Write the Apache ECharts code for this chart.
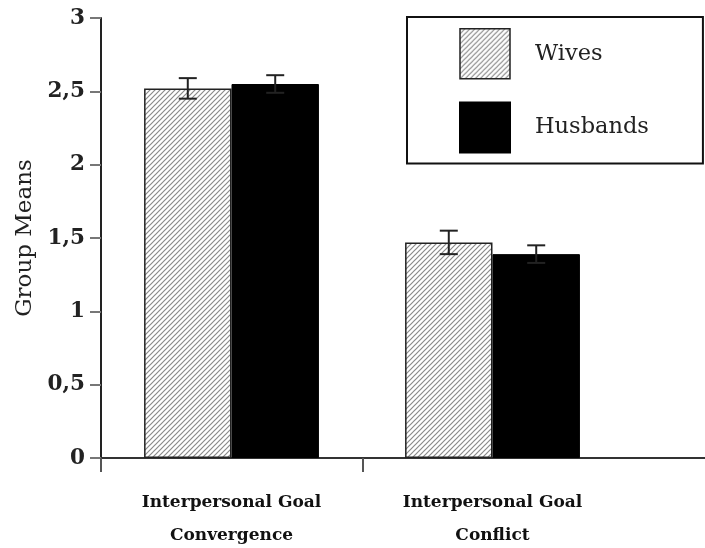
<!DOCTYPE html>
<html>
<head>
<meta charset="utf-8">
<script src="https://cdn.jsdelivr.net/npm/echarts@6/dist/echarts.min.js"></script>
<style>
  html, body { margin: 0; padding: 0; background: #fff; }
  #chart { width: 705px; height: 548px; }
</style>
</head>
<body>
<div id="chart"></div>
<script>
// ------------------------------------------------------- //
// Data
// ------------------------------------------------------ //
var categories = ['Interpersonal Goal\nConvergence', 'Interpersonal Goal\nConflict'];
var wives = [2.52, 1.47];
var husbands = [2.55, 1.39];
var wivesErr = [0.07, 0.08];
var husbandsErr = [0.06, 0.06];
var yTicks = [0, 0.5, 1, 1.5, 2, 2.5, 3];

// hatch pattern for the wives bars
var hatch = document.createElement('canvas');
hatch.width = 5;
hatch.height = 5;
var hc = hatch.getContext('2d');
hc.fillStyle = '#fff';
hc.fillRect(0, 0, 5, 5);
hc.strokeStyle = '#8a8a8a';
hc.lineWidth = 1.2;
hc.beginPath();
hc.moveTo(-1, 6); hc.lineTo(6, -1);
hc.moveTo(-1, 1); hc.lineTo(1, -1);
hc.moveTo(4, 6); hc.lineTo(6, 4);
hc.stroke();

var serif = '"DejaVu Serif", "Liberation Serif", serif';
var gapPct = 0.33;

function errorBars(values, errs, side) {
    return {
        type: 'custom',
        xAxisIndex: 0,
        yAxisIndex: 0,
        z: 5,
        data: values.map(function (v, i) { return [i, v, errs[i]]; }),
        renderItem: function (params, api) {
            var band = api.size([1, 0])[0];
            var barW = band * (1 - gapPct) / 2;
            var v = api.value(1), e = api.value(2);
            var top = api.coord([api.value(0), v + e]);
            var bot = api.coord([api.value(0), v - e]);
            var x = top[0] + side * barW / 2;
            var cap = 9;
            var st = {stroke: '#222', lineWidth: 2};
            return {
                type: 'group',
                children: [
                    {type: 'line', shape: {x1: x, y1: top[1], x2: x, y2: bot[1]}, style: st},
                    {type: 'line', shape: {x1: x - cap, y1: top[1], x2: x + cap, y2: top[1]}, style: st},
                    {type: 'line', shape: {x1: x - cap, y1: bot[1], x2: x + cap, y2: bot[1]}, style: st}
                ]
            };
        }
    };
}

var chart = echarts.init(document.getElementById('chart'));
var option = {
    animation: false,
    backgroundColor: '#fff',
    grid: [
        {left: 101, top: 18, width: 522, height: 440, outerBoundsMode: 'none', containLabel: false},
        {left: 101, top: 18, right: 0, height: 440, outerBoundsMode: 'none', containLabel: false}
    ],
    legend: {
        orient: 'vertical',
        left: 407,
        top: 17,
        padding: [11, 54, 10, 52],
        itemWidth: 50,
        itemHeight: 50,
        itemGap: 22,
        borderColor: '#111',
        borderWidth: 2,
        backgroundColor: '#fff',
        data: [
            {name: 'Wives', icon: 'rect', itemStyle: {borderColor: '#222', borderWidth: 1.5}},
            {name: 'Husbands', icon: 'rect'}
        ],
        textStyle: {fontFamily: serif, fontSize: 22.5, color: '#222', padding: [0, 0, 0, 20]}
    },
    xAxis: [
        {
            type: 'category',
            gridIndex: 0,
            data: categories,
            axisLine: {show: false},
            axisTick: {show: false},
            axisLabel: {
                margin: 28,
                fontFamily: serif,
                fontSize: 17,
                fontWeight: 'bold',
                color: '#111',
                lineHeight: 33
            }
        },
        {
            type: 'value',
            gridIndex: 1,
            min: 0,
            max: 2.31,
            axisLine: {show: true, lineStyle: {color: '#333', width: 2}},
            axisTick: {show: true, customValues: [0, 1], length: 14, lineStyle: {color: '#555', width: 2}},
            axisLabel: {show: false},
            splitLine: {show: false}
        }
    ],
    yAxis: [
        {
            type: 'value',
            gridIndex: 0,
            min: 0,
            max: 3,
            interval: 0.5,
            name: 'Group Means',
            nameLocation: 'middle',
            nameGap: 62,
            nameRotate: 90,
            nameTextStyle: {fontFamily: serif, fontSize: 23, color: '#222'},
            axisLine: {show: true, lineStyle: {color: '#222', width: 2}},
            axisTick: {show: true, length: 11, lineStyle: {color: '#777', width: 2}},
            axisLabel: {
                margin: 16,
                fontFamily: serif,
                fontSize: 21.5,
                fontWeight: 'bold',
                color: '#222',
                customValues: yTicks,
                formatter: function (v) { return String(v).replace('.', ','); }
            },
            splitLine: {show: false}
        },
        {
            type: 'value',
            gridIndex: 1,
            show: false
        }
    ],
    series: [
        {
            name: 'Wives',
            type: 'bar',
            data: wives,
            barGap: '0%',
            barCategoryGap: (gapPct * 100) + '%',
            itemStyle: {color: {image: hatch, repeat: 'repeat'}, borderColor: '#222', borderWidth: 1.5}
        },
        {
            name: 'Husbands',
            type: 'bar',
            data: husbands,
            itemStyle: {color: '#000', borderColor: '#000', borderWidth: 1}
        },
        errorBars(wives, wivesErr, -1),
        errorBars(husbands, husbandsErr, 1)
    ]
};
chart.setOption(option);
</script>
</body>
</html>
